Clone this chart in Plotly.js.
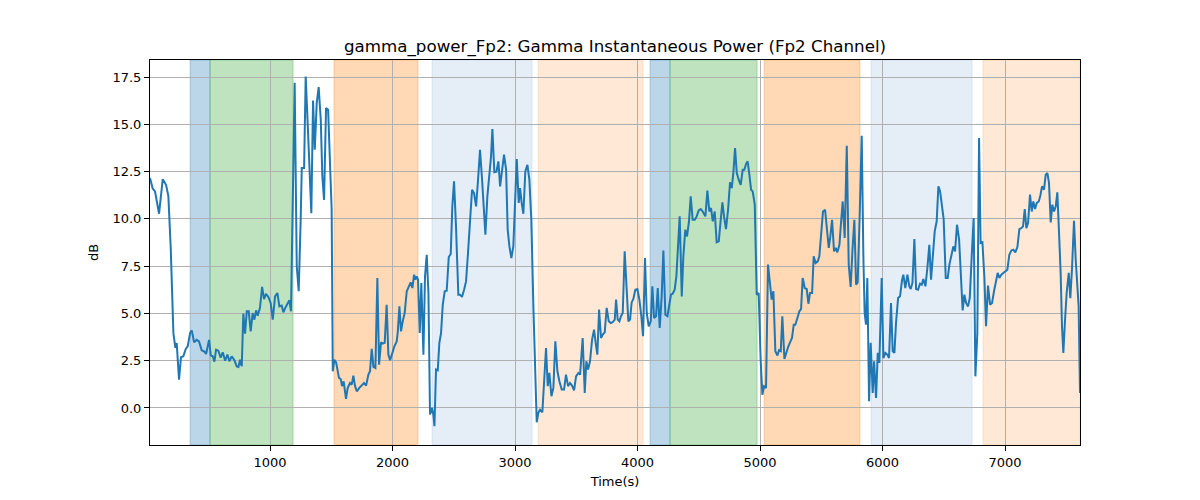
<!DOCTYPE html>
<html>
<head>
<meta charset="utf-8">
<script src="https://cdn.plot.ly/plotly-3.0.1.min.js"></script>
<style>html,body{margin:0;padding:0;background:#fff;}#chart{width:1200px;height:500px;}</style>
</head>
<body>
<div id="chart"></div>
<script>
const time = [20,42,61,94,124,151,170,189,211,227,238,257,273,292,312,328,347,361,380,401,420,442,464,478,502,516,532,546,559,578,597,614,633,652,668,687,709,728,742,755,769,782,796,810,826,842,858,872,886,899,918,935,951,967,986,1005,1022,1041,1060,1076,1095,1109,1128,1147,1158,1171,1185,1201,1218,1234,1250,
1259,1278,1291,1305,1321,1337,1351,1365,1381,1397,1414,1427,1441,1457,1474,1490,1503,1512,1525,1539,1550,1563,1577,1588,1601,1610,1620,1634,1653,1667,1680,1694,1708,1729,1748,1767,1784,1803,1816,1830,1844,1860,1876,1890,1906,1920,1936,1952,1966,1980,1999,2015,2034,2042,2056,2069,2083,2099,2116,2132,2148,2162,2176,2186,2197,2208,2222,2235,2252,2265,2279,2293,2306,2322,2333,2342,2355,2369,2382,2396,2410,2426,2442,2459,2475,2488,2502,2518,2537,
2551,2567,2584,2600,2616,2633,2649,2665,2682,2698,2714,2731,2747,2758,2774,2790,2804,2815,2831,2848,2864,2878,2894,2910,2927,2940,2954,2970,2986,3000,3014,3030,3041,3054,3068,3084,3101,3117,3133,3150,3163,3177,3190,3204,3223,3237,3253,3267,3280,3297,3313,3329,3346,3362,3381,3400,3416,3433,3449,3465,3482,3498,3517,3531,3552,3569,3582,3596,3612,3629,3645,3658,3672,3686,3702,3716,3732,3748,3765,
3781,3797,3814,3825,3838,3852,3865,3879,3895,3912,3925,3939,3952,3966,3982,3999,4015,4031,4045,4061,4075,4091,4108,4121,4135,4151,4165,4181,4197,4211,4227,4244,4260,4273,4287,4303,4317,4331,4344,4361,4374,4390,4404,4420,4434,4450,4467,4483,4499,4516,4532,4554,4570,4586,4600,4614,4630,4646,4663,4679,4693,4706,4722,4739,4755,4769,4782,4796,4810,4826,4842,4859,4872,4886,4899,4913,4927,4940,4957,4973,4989,
5005,5019,5033,5049,5065,5082,5095,5109,5125,5142,5155,5169,5182,5199,5212,5229,5245,5261,5275,5288,5305,5321,5335,5348,5365,5381,5395,5408,5425,5438,5454,5471,5484,5501,5514,5531,5544,5561,5574,5588,5604,5618,5631,5648,5661,5675,5691,5708,5724,5740,5754,5770,5784,5797,5814,5830,5844,5854,5865,5876,5890,5903,5920,5931,5947,5961,5974,5993,6007,6023,6039,6053,6069,6083,6097,6110,6127,6143,6159,6170,6186,6203,6219,
6230,6244,6260,6274,6290,6306,6320,6333,6350,6366,6382,6396,6410,6426,6442,6456,6470,6486,6499,6516,6532,6546,6562,6578,6592,6608,6625,6638,6654,6668,6682,6698,6712,6728,6744,6758,6774,6788,6801,6815,6831,6845,6861,6878,6894,6910,6927,6940,6954,6970,6986,7003,7019,7035,7052,7068,7084,7101,7117,7133,7147,7161,7174,7188,7204,7218,7231,7245,7259,7275,7288,7302,7318,7332,7346,7359,7373,7386,7400,7414,7427,7441,7454,7465,7476,7490,7503,7520,7533,7547,7563,7577,7591,7601,7612];

const db = [12.16,11.6,11.45,10.27,12.1,11.8,11.2,8.5,3.96,3.17,3.43,1.5,2.68,2.73,3.12,3.26,3.96,4.1,3.47,3.6,3.52,3.05,2.98,2.85,3.6,2.78,2.73,2.45,3.08,3.03,2.66,2.94,2.5,2.82,2.47,2.73,2.52,2.2,2.17,2.55,2.2,4.99,3.93,5.11,5.11,4.05,5.02,4.67,5.16,4.88,5.29,6.4,5.76,6.03,5.87,5.55,4.67,5.9,6.08,5.37,5.41,5.06,5.34,5.55,5.69,5.11,10.13,17.2,7.49,6.17,9.95,
12.69,12.69,17.53,15.4,12.6,10.3,16.26,13.65,16.12,16.97,15.24,12.24,11.0,15.86,15.77,12.95,10.48,1.94,2.55,2.41,2.03,1.59,1.53,1.15,1.41,1.06,0.48,1.06,1.32,1.23,1.71,1.15,0.88,1.06,1.18,1.32,1.18,1.76,1.94,3.12,2.17,2.11,6.87,2.29,3.47,3.4,3.44,5.46,2.82,2.52,2.91,3.26,3.52,3.96,5.37,4.05,4.58,5.02,6.17,6.43,6.64,6.34,7.05,6.78,6.96,6.78,3.96,6.61,2.82,6.96,8.1,6.08,-0.35,0.0,-0.35,-0.97,2.03,1.99,3.44,3.96,5.46,6.17,6.2,7.98,8.14,10.66,11.98,9.6,5.99,
5.99,5.87,6.25,6.69,8.19,10.31,11.54,11.36,10.66,12.07,13.65,12.07,10.13,9.16,11.19,12.42,13.3,14.75,12.46,12.49,13.04,11.72,12.6,13.39,12.6,9.43,8.54,7.93,8.54,10.66,13.16,10.84,11.63,10.84,10.27,12.51,12.86,12.07,9.95,5.29,2.03,-0.76,-0.26,-0.09,-0.23,1.15,3.17,1.15,1.85,0.62,1.06,3.52,1.94,1.41,0.97,0.97,1.76,1.15,1.32,1.18,0.93,1.67,1.85,1.76,3.7,0.79,2.47,2.03,2.47,3.61,4.14,3.44,2.82,5.2,3.7,3.88,4.0,5.29,4.58,
4.49,4.53,4.67,5.73,4.67,4.58,4.85,5.02,8.28,6.43,4.58,4.67,5.58,5.76,6.25,6.29,5.73,4.85,3.79,7.93,5.02,4.32,4.58,6.43,4.76,4.85,6.34,4.23,5.9,8.33,4.93,4.85,5.37,5.99,6.04,6.25,6.96,8.9,10.13,5.9,8.02,9.43,9.07,9.87,11.19,9.95,9.95,10.13,10.45,10.52,10.39,10.13,11.5,10.39,10.57,9.87,10.39,8.76,8.81,9.95,10.87,10.13,9.46,10.48,11.93,11.63,12.42,13.74,12.42,12.07,11.8,12.6,12.6,12.91,13.04,12.33,11.54,11.45,10.75,5.99,6.08,
2.55,0.7,1.15,1.06,7.58,6.61,5.73,6.17,3.0,2.77,3.05,3.0,4.85,2.59,2.91,3.22,3.47,3.7,4.4,4.4,4.76,5.11,5.23,6.87,6.34,6.29,5.51,6.08,6.08,8.02,7.66,7.75,8.02,9.43,10.39,10.48,9.51,8.46,9.07,9.95,8.28,8.46,8.23,8.63,9.78,10.92,8.99,13.87,7.58,6.4,8.28,9.95,6.52,6.64,10.31,14.39,7.84,5.02,4.4,6.87,0.35,3.44,0.79,2.47,0.53,2.91,2.38,6.87,2.64,2.91,2.82,2.64,5.55,3.0,2.91,4.49,5.81,5.9,6.75,7.05,6.34,7.05,6.43,
6.29,6.61,8.93,6.29,6.25,6.57,6.52,6.82,6.43,7.4,8.63,6.78,7.93,9.34,9.87,11.72,11.45,10.48,9.99,6.87,6.87,7.58,8.02,8.54,8.28,9.69,8.9,7.14,5.16,5.99,5.55,5.37,5.81,8.02,10.04,1.67,3.96,14.27,8.72,8.76,6.96,4.32,6.47,5.46,5.55,6.17,6.78,7.14,6.87,7.05,7.14,7.22,7.31,8.1,8.33,8.37,8.23,8.51,9.46,9.51,9.6,10.52,9.51,9.78,11.28,10.39,10.92,10.52,10.84,10.92,11.22,11.72,11.54,12.33,12.42,11.89,9.81,10.75,10.39,10.66,11.4,9.25,7.14,4.32,2.91,4.67,6.08,7.14,5.81,7.4,9.9,7.84,6.43,5.37,0.79];

// shaded intervals (data units) and their category
const spanStart = [347, 510, 1522, 2322, 3188, 4102, 4265, 5033, 5906, 6820];
const spanEnd   = [510, 1188, 2208, 3139, 4045, 4265, 4976, 5816, 6731, 7612];
const spanKind  = ['blue','green','orange','lightblue','lightorange','blue','green','orange','lightblue','lightorange'];

const kindColor = {
  blue: 'rgba(31,119,180,0.3)',
  green: 'rgba(44,160,44,0.3)',
  orange: 'rgba(255,127,14,0.3)',
  lightblue: 'rgba(70,130,200,0.14)',
  lightorange: 'rgba(255,127,14,0.17)'
};

const shapes = spanStart.map((s, i) => ({
  type: 'rect', xref: 'x', yref: 'paper', x0: s, x1: spanEnd[i], y0: 0, y1: 1,
  fillcolor: kindColor[spanKind[i]], line: {width: 1, color: kindColor[spanKind[i]]}, layer: 'below'
}));

const font = {family: 'DejaVu Sans, sans-serif', size: 13, color: '#000'};

Plotly.newPlot('chart', [{
  x: time, y: db, type: 'scatter', mode: 'lines',
  line: {color: '#1f77b4', width: 2}, hoverinfo: 'skip'
}], {
  width: 1200, height: 500,
  margin: {l: 150, r: 120, t: 60, b: 55},
  paper_bgcolor: '#fff', plot_bgcolor: 'rgba(0,0,0,0)',
  font: font,
  showlegend: false,
  title: {text: 'gamma_power_Fp2: Gamma Instantaneous Power (Fp2 Channel)', x: 0.5125, xanchor: 'center', y: 0.907, yanchor: 'middle', font: {family: 'DejaVu Sans, sans-serif', size: 16.7, color: '#000'}},
  xaxis: {
    range: [20, 7612], tickvals: [1000,2000,3000,4000,5000,6000,7000],
    ticks: 'outside', ticklen: 5, tickcolor: '#000', tickwidth: 1,
    showgrid: true, gridcolor: '#b0b0b0', gridwidth: 1,
    showline: true, linecolor: '#000', linewidth: 1, mirror: true, zeroline: false,
    title: {text: 'Time(s)', standoff: 8, font: font}, tickfont: font
  },
  yaxis: {
    range: [-1.96, 18.4], tickvals: [0,2.5,5,7.5,10,12.5,15,17.5], tickformat: '.1f',
    ticks: 'outside', ticklen: 5, tickcolor: '#000', tickwidth: 1,
    showgrid: true, gridcolor: '#b0b0b0', gridwidth: 1,
    showline: true, linecolor: '#000', linewidth: 1, mirror: true, zeroline: false,
    title: {text: 'dB', standoff: 10, font: font}, tickfont: font
  },
  shapes: shapes
}, {staticPlot: true, displayModeBar: false});
</script>
</body>
</html>
